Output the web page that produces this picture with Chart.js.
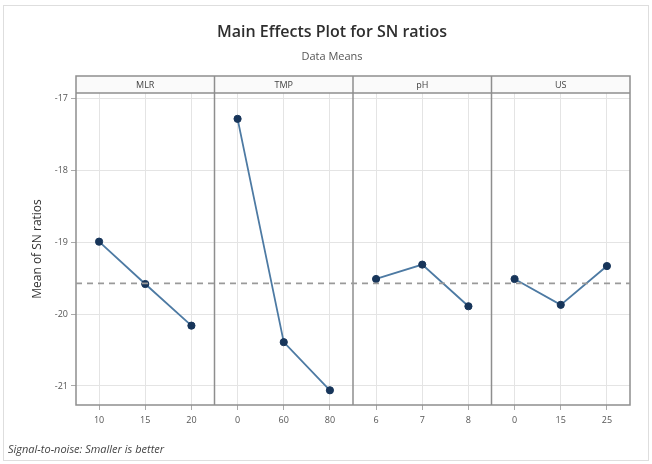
<!DOCTYPE html>
<html>
<head>
<meta charset="utf-8">
<script src="https://cdn.jsdelivr.net/npm/chart.js@4.4.1/dist/chart.umd.min.js"></script>
<style>
  html, body { margin: 0; padding: 0; background: #fff; }
</style>
</head>
<body>
<canvas id="grafica" width="652" height="464"></canvas>
<script>
// Datos
const factors = ['MLR', 'TMP', 'pH', 'US'];
const mlrLevels = ['10', '15', '20'];
const tmpLevels = ['0', '60', '80'];
const phLevels = ['6', '7', '8'];
const usLevels = ['0', '15', '25'];
const mlrSN = [-18.99, -19.58, -20.16];
const tmpSN = [-17.28, -20.39, -21.06];
const phSN = [-19.51, -19.31, -19.89];
const usSN = [-19.51, -19.87, -19.33];
const meanSN = -19.57;
const yTicks = [-21, -20, -19, -18, -17];

const titleText = 'Main Effects Plot for SN ratios';
const subtitleText = 'Data Means';
const footerText = 'Signal-to-noise: Smaller is better';

const allLevels = [].concat(mlrLevels, tmpLevels, phLevels, usLevels);
const allSeries = [mlrSN, tmpSN, phSN, usSN];

const lineColor = '#4d7aa3';
const pointColor = '#17355a';
const frameColor = '#8e8e8e';
const gridColor = '#e4e4e4';

Chart.defaults.font.family = "'Open Sans', sans-serif";

// cada factor ocupa 3 posiciones en el eje x
const datasets = allSeries.map((serie, f) => ({
  label: factors[f],
  data: serie.map((v, i) => ({ x: f * 3 + i, y: v })),
  borderColor: lineColor,
  borderWidth: 1.8,
  pointRadius: 3.6,
  pointBackgroundColor: pointColor,
  pointBorderColor: pointColor,
  pointBorderWidth: 1,
  tension: 0
}));

datasets.unshift({
  label: 'mean',
  data: [{ x: -0.5, y: meanSN }, { x: allLevels.length - 0.5, y: meanSN }],
  borderColor: '#9a9a9a',
  borderWidth: 1.8,
  borderDash: [6, 5],
  pointRadius: 0
});

const panelPlugin = {
  id: 'panels',
  beforeDraw(chart) {
    const ctx = chart.ctx;
    ctx.save();
    ctx.fillStyle = '#fff';
    ctx.fillRect(0, 0, chart.width, chart.height);
    ctx.strokeStyle = '#dedede';
    ctx.lineWidth = 1;
    ctx.strokeRect(3.5, 5.5, chart.width - 7, chart.height - 9);
    ctx.textAlign = 'center';
    ctx.textBaseline = 'middle';
    ctx.fillStyle = '#2e2e2e';
    ctx.font = "600 16px 'Open Sans', sans-serif";
    ctx.fillText(titleText, 332, 32);
    ctx.fillStyle = '#555';
    ctx.font = "11px 'Open Sans', sans-serif";
    ctx.fillText(subtitleText, 332, 57);
    ctx.textAlign = 'left';
    ctx.fillStyle = '#444';
    ctx.font = "italic 11px 'Open Sans', sans-serif";
    ctx.fillText(footerText, 8, 450);
    ctx.restore();
  },
  beforeDatasetsDraw(chart) {
    const ctx = chart.ctx;
    const area = chart.chartArea;
    const xs = chart.scales.x;
    const headTop = area.top - 17;
    ctx.save();
    // cabecera
    ctx.fillStyle = '#fafafa';
    ctx.fillRect(area.left, headTop, area.right - area.left, 17);
    ctx.strokeStyle = frameColor;
    ctx.lineWidth = 1.5;
    ctx.strokeRect(area.left, headTop, area.right - area.left, area.bottom - headTop);
    ctx.beginPath();
    ctx.moveTo(area.left, area.top);
    ctx.lineTo(area.right, area.top);
    for (let f = 1; f < factors.length; f++) {
      const px = xs.getPixelForValue(f * 3 - 0.5);
      ctx.moveTo(px, headTop);
      ctx.lineTo(px, area.bottom);
    }
    ctx.stroke();
    ctx.fillStyle = '#444';
    ctx.font = "9px 'Open Sans', sans-serif";
    ctx.textAlign = 'center';
    ctx.textBaseline = 'middle';
    factors.forEach((name, f) => {
      ctx.fillText(name, xs.getPixelForValue(f * 3 + 1), headTop + 9);
    });
    ctx.restore();
  }
};

var chart = new Chart(document.getElementById('grafica'), {
  type: 'line',
  data: { datasets: datasets },
  options: {
    responsive: false,
    animation: false,
    layout: { padding: { top: 93, right: 22, bottom: 29, left: 0 } },
    plugins: {
      legend: { display: false },
      tooltip: { enabled: false }
    },
    scales: {
      x: {
        type: 'linear',
        min: -0.5,
        max: allLevels.length - 0.5,
        afterBuildTicks: (scale) => { scale.ticks = allLevels.map((l, i) => ({ value: i })); },
        afterFit: (scale) => { scale.height = 30; },
        border: { display: false },
        grid: { color: gridColor, lineWidth: 1, tickLength: 5, tickColor: '#aaa' },
        ticks: {
          autoSkip: false,
          maxRotation: 0,
          padding: 5,
          color: '#555',
          font: { size: 9 },
          callback: (value) => allLevels[value]
        }
      },
      y: {
        min: -21.265,
        max: -16.92,
        afterBuildTicks: (scale) => { scale.ticks = yTicks.map(v => ({ value: v })); },
        afterFit: (scale) => { scale.width = 76; },
        border: { display: false },
        grid: { color: gridColor, lineWidth: 1, tickLength: 5, tickColor: '#aaa' },
        ticks: {
          padding: 3,
          color: '#555',
          font: { size: 9 }
        },
        title: {
          display: true,
          text: 'Mean of SN ratios',
          color: '#333',
          font: { size: 12 },
          padding: { top: 30, bottom: 0 }
        }
      }
    }
  },
  plugins: [panelPlugin]
});
</script>
</body>
</html>
